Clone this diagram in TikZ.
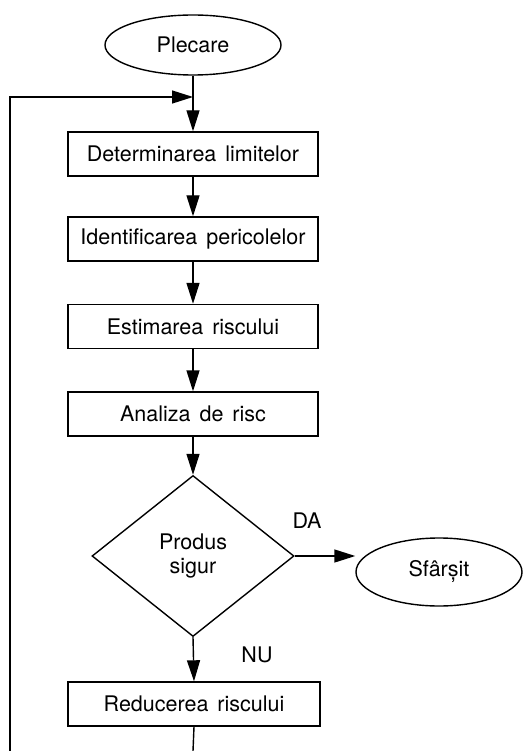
\documentclass[tikz,border=0pt]{standalone}
\usepackage{fontspec}
\setmainfont{TeX Gyre Heros}
\usetikzlibrary{shapes.geometric,arrows.meta}
\newcommand{\wsp}{\ \hspace{3pt}}
\begin{document}
\begin{tikzpicture}[x=1pt,y=-1pt,
  every node/.style={font=\fontsize{21.5}{24}\selectfont},
  line/.style={line width=1.4pt},
  arr/.style={line, -{Triangle[length=21pt,width=13pt]}},
  proc/.style={draw, line width=1.4pt, rectangle, minimum width=250pt, minimum height=44pt, inner sep=0pt},
  term/.style={draw, line width=1.4pt, ellipse, inner sep=0pt},
  lbl/.style={inner sep=0pt}]
\useasboundingbox (0,0) rectangle (525,751);
\node[term, minimum width=176pt, minimum height=60pt] (start) at (193,45) {Plecare};
\node[proc] (b1) at (193,154) {Determinarea\wsp limitelor};
\node[proc] (b2) at (193,239) {Identificarea\wsp pericolelor};
\node[proc] (b3) at (193,326.5) {Estimarea\wsp riscului};
\node[proc] (b4) at (193,414) {Analiza\wsp de\wsp risc};
\node[draw, line width=1.4pt, diamond, minimum width=202pt, minimum height=161pt, inner sep=0pt, align=center] (dec) at (193,556) {Produs\\sigur};
\node[term, minimum width=166pt, minimum height=68pt] (end) at (439,572) {Sfârșit};
\node[proc, minimum width=252pt] (b5) at (194,704) {Reducerea\wsp riscului};
\node[lbl] (da) at (307,521) {DA};
\node[lbl] (nu) at (257,655) {NU};
\coordinate (bot) at (193,751);
\coordinate (fb) at (10,751);
\coordinate (join) at (193,97);
\draw[arr] (start.south) -- (b1.north);
\draw[arr] (b1.south) -- (b2.north);
\draw[arr] (b2.south) -- (b3.north);
\draw[arr] (b3.south) -- (b4.north);
\draw[arr] (b4.south) -- (dec.north);
\draw[arr] (dec.east) -- (dec.east -| end.west);
\draw[arr] (dec.south) -- (b5.north);
\draw[line] (b5.south) -- (bot);
\draw[arr] (fb) |- (join);
\end{tikzpicture}
\end{document}
